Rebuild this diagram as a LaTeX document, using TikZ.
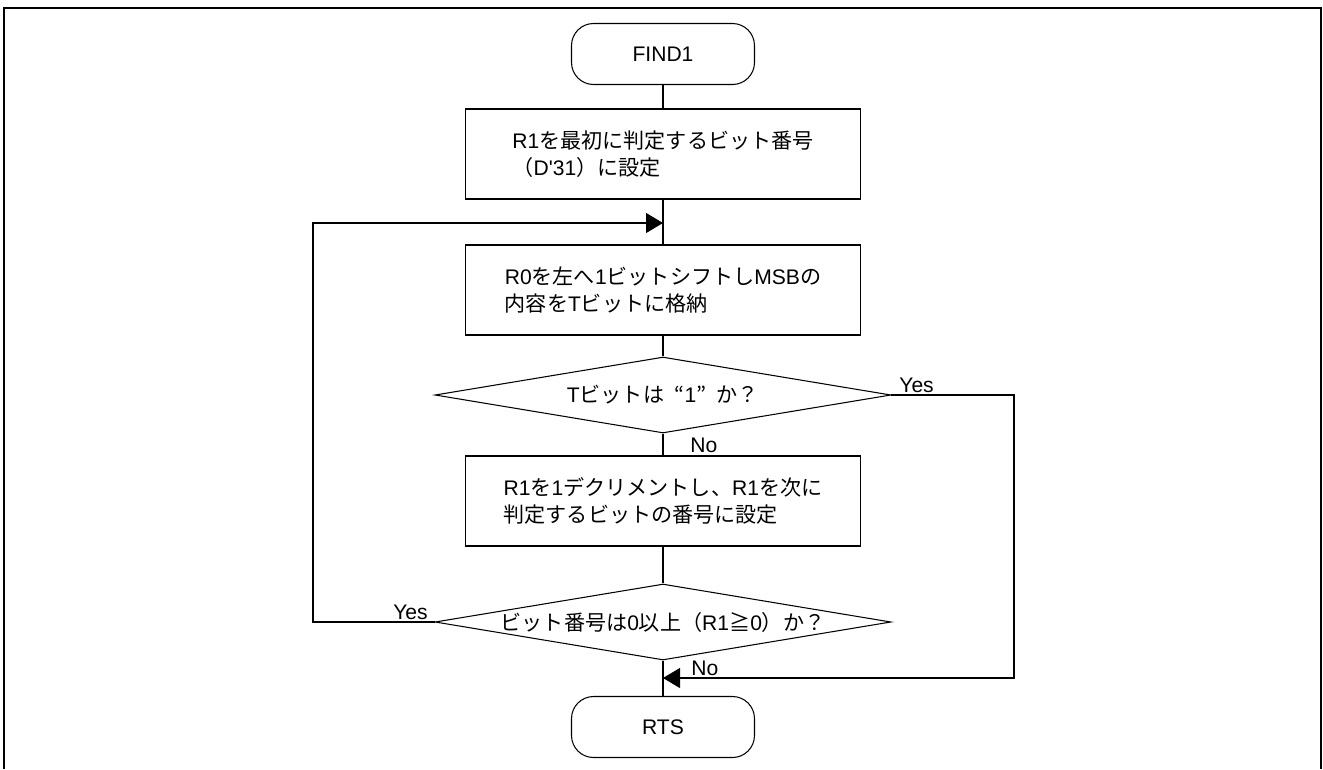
\documentclass[tikz,border=0pt]{standalone}
\usepackage{fontspec}
\setmainfont{Liberation Sans}
\newfontfamily\arialf{Liberation Sans}
\newfontfamily\jp{Noto Sans CJK JP}
\usetikzlibrary{shapes.geometric,arrows.meta}
\tikzset{
  every node/.style={font=\arialf\fontsize{12}{15.5}\selectfont},
  term/.style={draw, line width=0.6pt, rounded corners=0.44cm, minimum width=3.66cm, minimum height=1.22cm},
  proc/.style={draw, line width=0.6pt, minimum width=7.9cm, minimum height=1.8cm, align=left},
  cond/.style={draw, line width=0.6pt, diamond, aspect=6, inner sep=0pt, minimum width=9.12cm, minimum height=1.52cm},
  lbl/.style={inner sep=0pt},
  link/.style={line width=0.6pt},
  flow/.style={line width=0.6pt, -{Triangle[length=0.34cm, width=0.4cm]}}
}
\begin{document}
\begin{tikzpicture}[x=0.02cm, y=-0.02cm]
 \useasboundingbox (0,0) rectangle (1323,769);
 % frame
 \draw[line width=1.2pt] (4,769) -- (4,8) -- (1321,8) -- (1321,769);

 \node[term] (find1) at (663,54) {FIND1};
 \node[proc] (set1) at (663,154) {R1{\jp を最初に判定するビット番号}\\{\jp （}D'31{\jp ）に設定}};
 \node[proc] (shift) at (663,290) {R0{\jp を左へ}1{\jp ビットシフトし}MSB{\jp の}\\{\jp 内容を}T{\jp ビットに格納}};
 \node[cond] (chk1) at (663,395) {T{\jp ビットは\hspace{0.5em}“}1{\jp ”\hspace{0.5em}か？}};
 \node[proc] (decr) at (663,501) {R1{\jp を}1{\jp デクリメントし、}R1{\jp を次に}\\{\jp 判定するビットの番号に設定}};
 \node[cond] (chk2) at (663,622) {{\jp ビット番号は}0{\jp 以上（}R1{\jp ≧}0{\jp ）か？}};
 \node[term] (rts) at (663,727) {RTS};

 \coordinate (join1) at (663,223);
 \coordinate (join2) at (663,678);
 \coordinate (loopL) at (313,622);
 \coordinate (loopR) at (1014,395);

 % labels
 \node[lbl, anchor=base west] (yes1) at (899,392) {Yes};
 \node[lbl, anchor=base west] (no1) at (690,452) {No};
 \node[lbl, anchor=base east] (yes2) at (428,619) {Yes};
 \node[lbl, anchor=base west] (no2) at (691,675) {No};

 % connectors
 \draw[link] (find1) -- (set1);
 \draw[link] (set1) -- (shift);
 \draw[link] (shift) -- (chk1);
 \draw[link] (chk1) -- (decr);
 \draw[link] (decr) -- (chk2);
 \draw[link] (chk2) -- (rts);
 \draw[flow] (chk2.west) -- (loopL) |- (join1);
 \draw[flow] (chk1.east) -- (loopR) |- (join2);
\end{tikzpicture}
\end{document}
